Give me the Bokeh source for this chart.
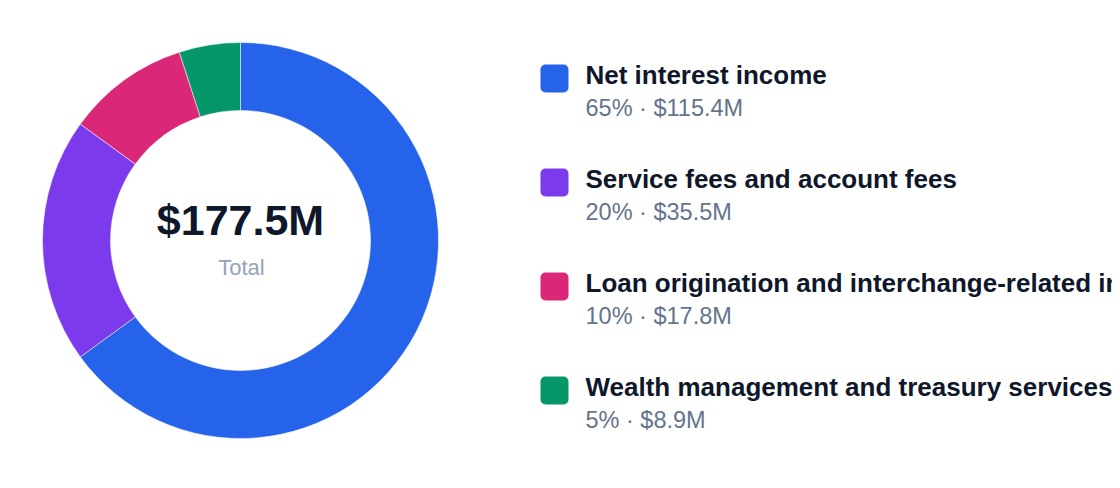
import numpy as np
from bokeh.plotting import figure
from bokeh.models import ColumnDataSource, Range1d
from bokeh.core.properties import value
from bokeh.embed import file_html
from bokeh.resources import INLINE

# Data
categories = [
    "Net interest income",
    "Service fees and account fees",
    "Loan origination and interchange-related income",
    "Wealth management and treasury services",
]
amounts = [115.4, 35.5, 17.8, 8.9]  # $M
percents = [65, 20, 10, 5]
colors = ["#2563eb", "#7c3aed", "#db2777", "#059669"]
total_label = "$177.5M"

W, H = 1112, 472
FONT = "Liberation Sans"


def sy(v):
    # pixel y measured from the top -> data y
    return H - v


p = figure(width=W, height=H, output_backend="svg", toolbar_location=None,
           x_range=Range1d(0, W), y_range=Range1d(0, H), min_border=0)
p.axis.visible = False
p.grid.visible = False
p.outline_line_color = None
p.background_fill_color = "white"

# Donut, starting at 12 o'clock and running clockwise
frac = np.array(percents, dtype=float) / sum(percents)
cum = np.concatenate([[0], np.cumsum(frac)])
start = np.pi / 2 - cum[:-1] * 2 * np.pi
end = np.pi / 2 - cum[1:] * 2 * np.pi
donut = ColumnDataSource(data=dict(start=start, end=end, color=colors))
p.annular_wedge(x=240, y=sy(240), inner_radius=130, outer_radius=198,
                inner_radius_units="screen", outer_radius_units="screen",
                start_angle="start", end_angle="end", direction="clock",
                fill_color="color", line_color="white", line_width=0.5,
                source=donut)

# Center labels
p.text(x=[240], y=[sy(219)], text=[total_label], text_align="center",
       text_baseline="alphabetic", text_font=value(FONT),
       text_font_style="bold", text_font_size="43px", text_color="#0f172a")
p.text(x=[241], y=[sy(267)], text=["Total"], text_align="center",
       text_baseline="alphabetic", text_font=value(FONT),
       text_font_size="22px", text_color="#94a3b8")

# Legend
rows = np.arange(len(categories))
subs = [f"{pc}% \u00b7 ${a}M" for pc, a in zip(percents, amounts)]
leg = ColumnDataSource(data=dict(
    y_sq=[sy(78 + 104 * i) for i in rows],
    y_title=[sy(74 + 104 * i) for i in rows],
    y_sub=[sy(107 + 104 * i) for i in rows],
    name=categories, sub=subs, color=colors))
p.rect(x=554, y="y_sq", width=28, height=28, width_units="screen",
       height_units="screen", fill_color="color", line_color=None,
       border_radius=5, source=leg)
p.text(x=585, y="y_title", text="name", text_baseline="alphabetic",
       text_font=value(FONT), text_font_style="bold",
       text_font_size="26px", text_color="#0f172a", source=leg)
p.text(x=585, y="y_sub", text="sub", text_baseline="alphabetic",
       text_font=value(FONT), text_font_size="23.5px",
       text_color="#64748b", source=leg)

open("out.html", "w").write(file_html(p, INLINE))
